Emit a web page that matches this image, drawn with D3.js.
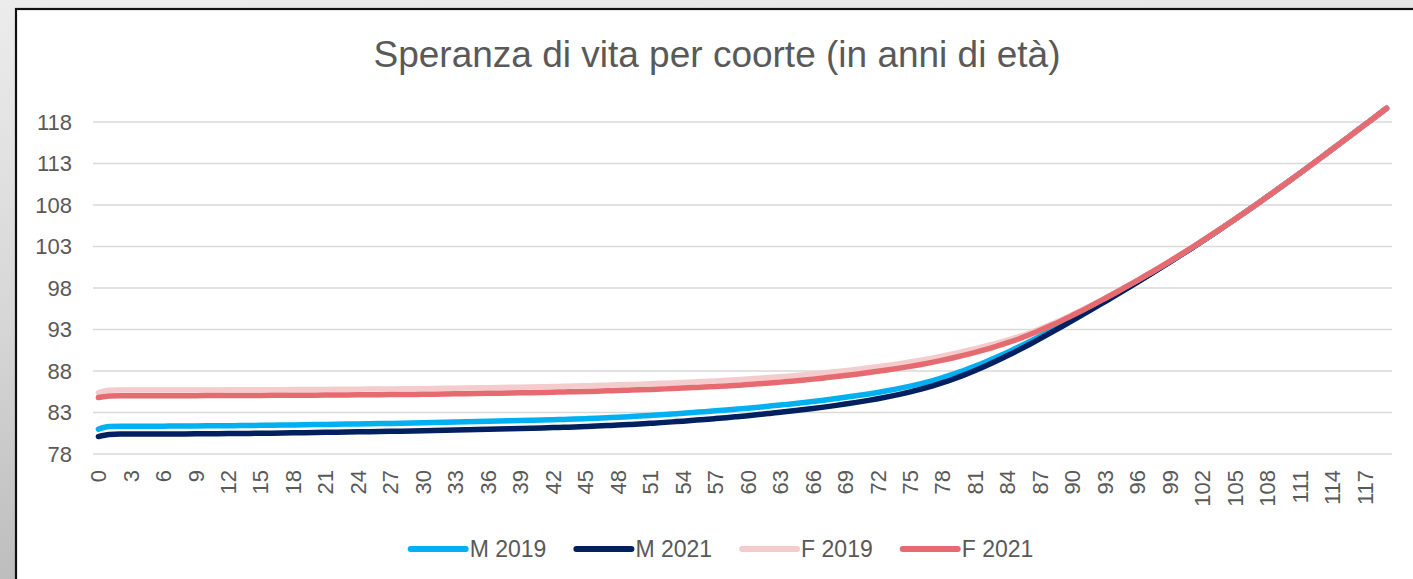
<!DOCTYPE html>
<html>
<head>
<meta charset="utf-8">
<script src="https://cdn.jsdelivr.net/npm/d3@7"></script>
<style>
  html, body { margin: 0; padding: 0; }
  svg { display: block; font-family: "Liberation Sans", Arial, sans-serif; }
</style>
</head>
<body>
<svg width="1413" height="579"></svg>
<script>
const ages = d3.range(0, 120)
const yTicks = [78, 83, 88, 93, 98, 103, 108, 113, 118]
const names = ['M 2019', 'M 2021', 'F 2019', 'F 2021']
const colors = ['#00B0F0', '#002060', '#F4CCCD', '#E56B70']

const m2019 = [
  81.00, 81.30, 81.35, 81.35, 81.35, 81.35, 81.35, 81.37, 81.37, 81.38,
  81.39, 81.40, 81.41, 81.42, 81.43, 81.45, 81.46, 81.48, 81.50, 81.52,
  81.54, 81.56, 81.58, 81.60, 81.62, 81.64, 81.66, 81.68, 81.70, 81.73,
  81.76, 81.79, 81.82, 81.85, 81.88, 81.91, 81.94, 81.97, 82.00, 82.03,
  82.06, 82.09, 82.13, 82.17, 82.21, 82.26, 82.31, 82.37, 82.43, 82.50,
  82.57, 82.65, 82.73, 82.82, 82.91, 83.01, 83.10, 83.20, 83.30, 83.41,
  83.52, 83.64, 83.77, 83.90, 84.03, 84.17, 84.32, 84.48, 84.65, 84.83,
  85.02, 85.21, 85.42, 85.65, 85.90, 86.18, 86.48, 86.82, 87.21, 87.64,
  88.09, 88.58, 89.11, 89.67, 90.26, 90.88, 91.52, 92.18, 92.87, 93.57,
  94.28, 95.00, 95.74, 96.49, 97.24, 98.00, 98.77, 99.56, 100.36, 101.17,
  101.99, 102.82, 103.66, 104.52, 105.40, 106.29, 107.19, 108.10, 109.02, 109.95,
  110.89, 111.84, 112.80, 113.77, 114.74, 115.72, 116.70, 117.68, 118.66, 119.65
]

const m2021 = [
  80.10, 80.35, 80.40, 80.40, 80.40, 80.40, 80.40, 80.42, 80.42, 80.43,
  80.44, 80.45, 80.46, 80.47, 80.48, 80.50, 80.51, 80.53, 80.55, 80.57,
  80.59, 80.61, 80.63, 80.65, 80.67, 80.69, 80.71, 80.73, 80.75, 80.78,
  80.81, 80.84, 80.87, 80.90, 80.93, 80.96, 80.99, 81.02, 81.05, 81.08,
  81.11, 81.14, 81.18, 81.22, 81.26, 81.31, 81.36, 81.42, 81.48, 81.55,
  81.62, 81.70, 81.78, 81.87, 81.96, 82.06, 82.16, 82.27, 82.38, 82.50,
  82.62, 82.75, 82.89, 83.03, 83.17, 83.32, 83.48, 83.65, 83.83, 84.02,
  84.22, 84.43, 84.66, 84.91, 85.18, 85.48, 85.81, 86.18, 86.59, 87.04,
  87.53, 88.06, 88.63, 89.23, 89.86, 90.52, 91.20, 91.90, 92.62, 93.35,
  94.09, 94.84, 95.60, 96.37, 97.14, 97.92, 98.71, 99.51, 100.32, 101.14,
  101.97, 102.81, 103.66, 104.52, 105.40, 106.29, 107.19, 108.10, 109.02, 109.95,
  110.89, 111.84, 112.80, 113.77, 114.74, 115.72, 116.70, 117.68, 118.66, 119.65
]

const f2019 = [
  85.40, 85.68, 85.70, 85.70, 85.70, 85.70, 85.70, 85.71, 85.71, 85.71,
  85.72, 85.72, 85.73, 85.73, 85.74, 85.74, 85.75, 85.75, 85.76, 85.76,
  85.77, 85.78, 85.79, 85.80, 85.81, 85.82, 85.83, 85.84, 85.85, 85.86,
  85.87, 85.89, 85.91, 85.93, 85.95, 85.97, 85.99, 86.01, 86.03, 86.05,
  86.07, 86.10, 86.13, 86.16, 86.19, 86.22, 86.25, 86.29, 86.33, 86.37,
  86.41, 86.46, 86.51, 86.56, 86.62, 86.68, 86.74, 86.81, 86.88, 86.96,
  87.04, 87.12, 87.21, 87.31, 87.41, 87.52, 87.64, 87.77, 87.90, 88.04,
  88.19, 88.35, 88.52, 88.70, 88.89, 89.09, 89.31, 89.55, 89.81, 90.09,
  90.38, 90.69, 91.02, 91.36, 91.73, 92.13, 92.58, 93.08, 93.62, 94.19,
  94.81, 95.45, 96.11, 96.80, 97.50, 98.22, 98.95, 99.70, 100.46, 101.25,
  102.05, 102.87, 103.70, 104.55, 105.42, 106.30, 107.19, 108.10, 109.02, 109.95,
  110.89, 111.84, 112.80, 113.77, 114.74, 115.72, 116.70, 117.68, 118.66, 119.65
]

const f2021 = [
  84.80, 85.00, 85.02, 85.02, 85.02, 85.02, 85.02, 85.03, 85.03, 85.03,
  85.04, 85.04, 85.05, 85.05, 85.06, 85.06, 85.07, 85.07, 85.08, 85.08,
  85.09, 85.10, 85.11, 85.12, 85.13, 85.14, 85.15, 85.16, 85.17, 85.18,
  85.19, 85.21, 85.23, 85.25, 85.27, 85.29, 85.31, 85.33, 85.35, 85.37,
  85.39, 85.42, 85.45, 85.48, 85.51, 85.54, 85.57, 85.61, 85.65, 85.69,
  85.73, 85.78, 85.83, 85.88, 85.94, 86.00, 86.06, 86.13, 86.20, 86.28,
  86.36, 86.45, 86.55, 86.66, 86.77, 86.89, 87.02, 87.16, 87.30, 87.45,
  87.61, 87.78, 87.96, 88.15, 88.35, 88.56, 88.79, 89.04, 89.31, 89.60,
  89.91, 90.24, 90.60, 90.99, 91.41, 91.86, 92.36, 92.90, 93.47, 94.07,
  94.71, 95.37, 96.05, 96.75, 97.46, 98.19, 98.93, 99.69, 100.46, 101.25,
  102.05, 102.87, 103.70, 104.55, 105.42, 106.30, 107.19, 108.10, 109.02, 109.95,
  110.89, 111.84, 112.80, 113.77, 114.74, 115.72, 116.70, 117.68, 118.66, 119.65
]

const series = [m2019, m2021, f2019, f2021]

const width = 1413
const height = 579
const textColor = '#595959'
const svg = d3.select('svg')

// grey brushed backdrop + white chart box
const defs = svg.append('defs')
const grad = defs.append('linearGradient').attr('id', 'bg')
  .attr('x1', 0).attr('y1', 0).attr('x2', 0.15).attr('y2', 1)
grad.append('stop').attr('offset', '0%').attr('stop-color', '#ececec')
grad.append('stop').attr('offset', '55%').attr('stop-color', '#d6d6d6')
grad.append('stop').attr('offset', '100%').attr('stop-color', '#bcbcbc')
svg.append('rect').attr('width', width).attr('height', height).attr('fill', 'url(#bg)')
svg.append('rect')
  .attr('x', 16).attr('y', 9).attr('width', 1430).attr('height', 600)
  .attr('fill', '#fff').attr('stroke', '#111').attr('stroke-width', 2.2)

const x = d3.scaleBand().domain(ages).range([93, 1392])
const cx = d => x(d) + x.bandwidth() / 2
const y = d3.scaleLinear().domain([78, 118]).range([454, 122])

svg.append('text')
  .attr('x', 717).attr('y', 67)
  .attr('text-anchor', 'middle')
  .attr('font-size', 37)
  .attr('fill', textColor)
  .text('Speranza di vita per coorte (in anni di età)')

// gridlines
svg.append('g')
  .selectAll('line')
  .data(yTicks)
  .join('line')
  .attr('x1', 93).attr('x2', 1392)
  .attr('y1', d => y(d)).attr('y2', d => y(d))
  .attr('stroke', '#d9d9d9').attr('stroke-width', 1.5)

// y axis
const yAxis = svg.append('g')
  .attr('transform', 'translate(84,0)')
  .call(d3.axisLeft(y).tickValues(yTicks).tickSize(0).tickPadding(12))
yAxis.select('.domain').remove()
yAxis.selectAll('text').attr('font-size', 22).attr('fill', textColor).attr('font-family', null)

// x axis, rotated labels every 3 years
const xAxis = svg.append('g')
  .attr('transform', 'translate(0,' + 458 + ')')
  .call(d3.axisBottom(x).tickValues(ages.filter(a => a % 3 === 0)).tickSize(0).tickPadding(0))
xAxis.select('.domain').remove()
xAxis.selectAll('text')
  .attr('font-size', 22).attr('fill', textColor).attr('font-family', null)
  .attr('text-anchor', 'end')
  .attr('transform', 'translate(0,12) rotate(-90)')
  .attr('x', 0).attr('y', 0).attr('dy', '0.35em')

// lines
const line = d3.line()
  .x((d, i) => cx(ages[i]))
  .y(d => y(d))
  .curve(d3.curveMonotoneX)

svg.append('g')
  .selectAll('path')
  .data(series)
  .join('path')
  .attr('d', d => line(d))
  .attr('fill', 'none')
  .attr('stroke', (d, i) => colors[i])
  .attr('stroke-width', 5.5)
  .attr('stroke-linecap', 'round')
  .attr('stroke-linejoin', 'round')

// legend
const legend = svg.append('g')
const items = legend.selectAll('g')
  .data(names)
  .join('g')
items.append('line')
  .attr('x1', 0).attr('x2', 55)
  .attr('stroke', (d, i) => colors[i])
  .attr('stroke-width', 6)
  .attr('stroke-linecap', 'round')
items.append('text')
  .attr('x', 59).attr('dy', '0.35em')
  .attr('font-size', 23)
  .attr('fill', textColor)
  .text(d => d)

let offset = 0
items.each(function () {
  const w = 59 + this.querySelector('text').getComputedTextLength()
  d3.select(this).attr('transform', 'translate(' + offset + ',0)')
  offset += w + 30
})
const total = offset - 30
legend.attr('transform', 'translate(' + (722 - total / 2) + ',549)')
</script>
</body>
</html>
